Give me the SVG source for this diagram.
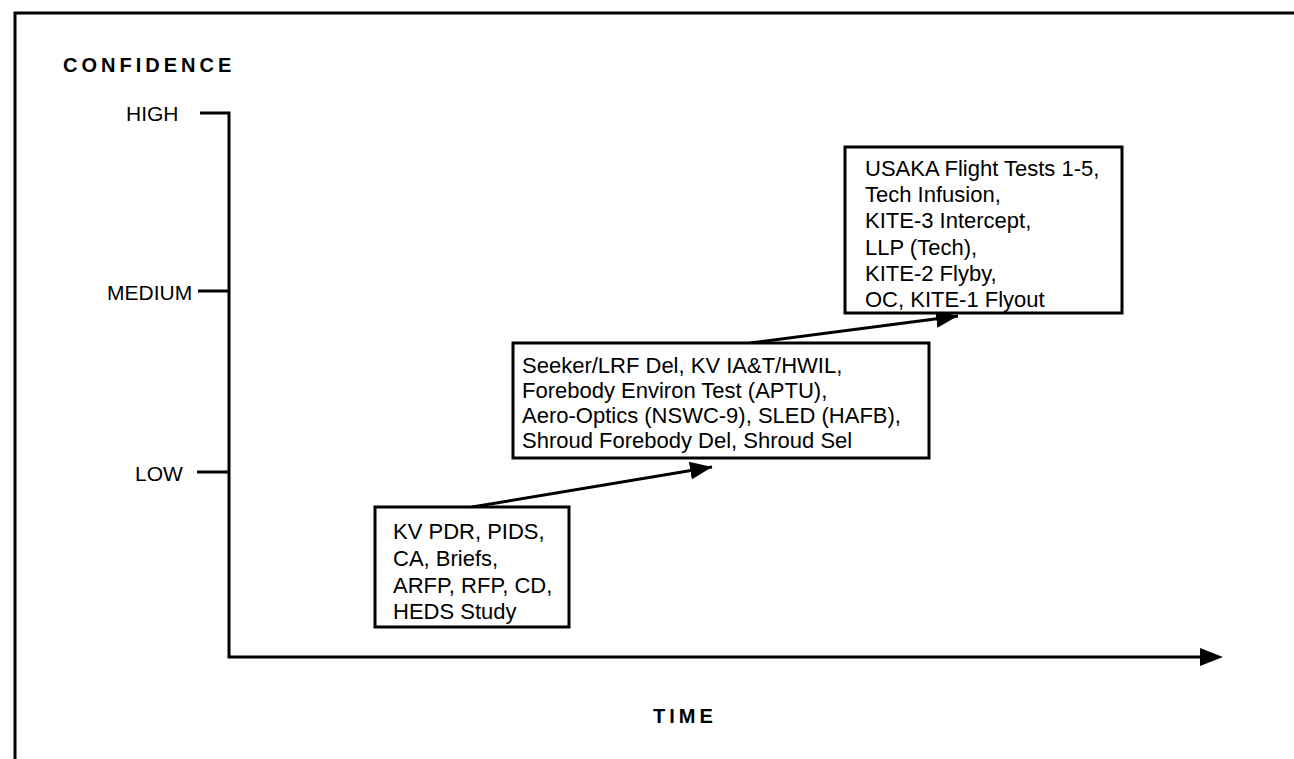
<svg xmlns="http://www.w3.org/2000/svg" width="1294" height="759" viewBox="0 0 1294 759">
<style>
  .ln{stroke:#000;stroke-width:3;fill:none}
  .box{stroke:#000;stroke-width:3;fill:#fff}
  .t{font-family:"Liberation Sans",Arial,sans-serif;font-size:22px;fill:#000}
  .ax{font-family:"Liberation Sans",Arial,sans-serif;font-size:21px;fill:#000}
  .ttl{font-family:"Liberation Sans",Arial,sans-serif;font-size:20px;font-weight:bold;letter-spacing:4px;fill:#000}
</style>
<defs>
  <marker id="ah" markerUnits="userSpaceOnUse" markerWidth="24" markerHeight="20" refX="22" refY="9" orient="auto">
    <path d="M0,0 L22,9 L0,18 Z" fill="#000"/>
  </marker>
</defs>
<rect width="1294" height="759" fill="#fff"/>
<g id="frame">
  <path class="ln" d="M15,759 V13 H1294" stroke-width="2.5"/>
</g>
<g id="axes">
  <path class="ln" d="M200,113 H229 V657 H1204"/>
  <path class="ln" d="M198,291 H229"/>
  <path class="ln" d="M197,472 H229"/>
  <path d="M1200,648 L1223,657 L1200,666 Z" fill="#000"/>
  <text class="ttl" x="63" y="72">CONFIDENCE</text>
  <text class="ax" x="126" y="121">HIGH</text>
  <text class="ax" x="107" y="300">MEDIUM</text>
  <text class="ax" x="135" y="481">LOW</text>
  <text class="ttl" x="653" y="723">TIME</text>
</g>
<g id="connectors">
  <line class="ln" x1="472" y1="507" x2="712" y2="467" marker-end="url(#ah)"/>
  <line class="ln" x1="750" y1="343" x2="958" y2="316" marker-end="url(#ah)"/>
</g>
<g id="node-early">
  <rect class="box" x="375" y="507" width="194" height="120"/>
  <text class="t" x="393" y="539">KV PDR, PIDS,</text>
  <text class="t" x="393" y="566">CA, Briefs,</text>
  <text class="t" x="393" y="593">ARFP, RFP, CD,</text>
  <text class="t" x="393" y="619">HEDS Study</text>
</g>
<g id="node-mid">
  <rect class="box" x="513" y="343" width="416" height="115"/>
  <text class="t" x="522" y="373">Seeker/LRF Del, KV IA&amp;T/HWIL,</text>
  <text class="t" x="522" y="398">Forebody Environ Test (APTU),</text>
  <text class="t" x="522" y="423">Aero-Optics (NSWC-9), SLED (HAFB),</text>
  <text class="t" x="522" y="448">Shroud Forebody Del, Shroud Sel</text>
</g>
<g id="node-late">
  <rect class="box" x="845" y="147" width="277" height="166"/>
  <text class="t" x="865" y="176">USAKA Flight Tests 1-5,</text>
  <text class="t" x="865" y="202">Tech Infusion,</text>
  <text class="t" x="865" y="228">KITE-3 Intercept,</text>
  <text class="t" x="865" y="255">LLP (Tech),</text>
  <text class="t" x="865" y="281">KITE-2 Flyby,</text>
  <text class="t" x="865" y="307">OC, KITE-1 Flyout</text>
</g>
</svg>
